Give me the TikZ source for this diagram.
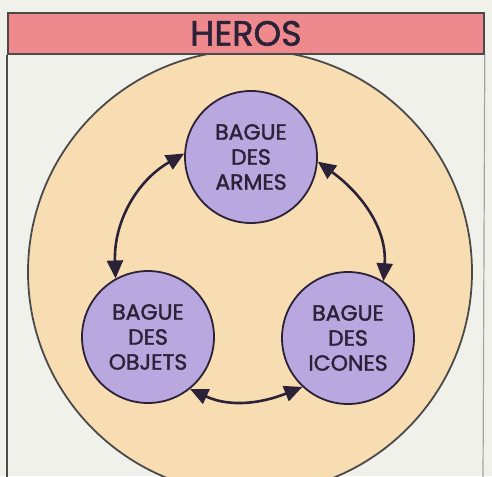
\documentclass[tikz,border=0pt]{standalone}
\usepackage{fontspec}
\newfontfamily\pop{Poppins}[FakeBold=1.6]
\usetikzlibrary{arrows.meta}
\definecolor{bgc}{HTML}{F1F1EB}
\definecolor{peach}{HTML}{F8DDB3}
\definecolor{lav}{HTML}{B9A7E0}
\definecolor{band}{HTML}{EE8A8E}
\definecolor{ink}{HTML}{2B2238}
\definecolor{frame}{HTML}{4A4A4A}
\begin{document}
\begin{tikzpicture}[x=1pt,y=-1pt,
  ring/.style={circle, draw=ink, line width=1.8pt, fill=lav, minimum size=132pt,
    inner sep=0pt, align=center, font=\pop\fontsize{22}{28}\selectfont, text=ink},
  link/.style={line width=2.6pt, draw=ink,
    {Triangle[length=18pt,width=16pt]}-{Triangle[length=18pt,width=16pt]}}]
\clip (0,0) rectangle (492,476);
\fill[bgc] (0,0) rectangle (492,476);
\node[circle, draw=frame, line width=1.8pt, fill=peach, minimum size=444pt, inner sep=0pt] (hero) at (250,272) {};
\coordinate (bl) at (7,480);
\coordinate (br) at (483,480);
\node[draw=frame, line width=1.8pt, fill=band, minimum width=476pt, minimum height=41pt,
  anchor=north west, inner sep=0pt, font=\pop\fontsize{35}{35}\selectfont, text=ink] (title) at (7,12) {HEROS};
\draw[frame, line width=2pt] (title.south west) -- (bl);
\draw[frame!50, line width=1.2pt] (title.south east) -- (br);
\node[ring] (armes) at (251,157) {BAGUE\\[-3pt]DES\\[-3pt]ARMES};
\node[ring] (objets) at (148,337) {BAGUE\\[-3pt]DES\\[-3pt]OBJETS};
\node[ring] (icones) at (348,338) {BAGUE\\[-3pt]DES\\[-3pt]ICONES};
\draw[link] (armes.177) to[out=210, in=92] (objets.119);
\draw[link] (objets.309) to[out=-25, in=202] (icones.227);
\draw[link] (icones.58) to[out=86, in=324] (armes.356);
\end{tikzpicture}
\end{document}
